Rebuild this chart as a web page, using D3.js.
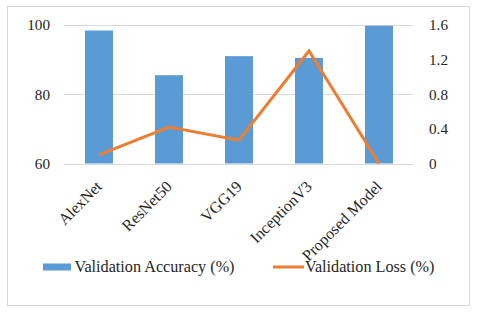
<!DOCTYPE html>
<html>
<head>
<meta charset="utf-8">
<script src="https://cdn.jsdelivr.net/npm/d3@7"></script>
<style>
  body { margin: 0; background: #fff; }
  text { font-family: "Liberation Serif", "Times New Roman", serif; fill: #262626; }
</style>
</head>
<body>
<div id="chart"></div>
<script>
var models = ["AlexNet", "ResNet50", "VGG19", "InceptionV3", "Proposed Model"]
var accuracy = [98.4, 85.5, 91.0, 90.5, 99.8]
var loss = [0.1, 0.42, 0.27, 1.3, 0]
var leftTicks = [60, 80, 100]
var rightTicks = [0, 0.4, 0.8, 1.2, 1.6]

var W = 480, H = 318
var margin = {top: 25, right: 66, bottom: 154.5, left: 64}
var width = W - margin.left - margin.right,
    height = H - margin.top - margin.bottom

var svg = d3.select("#chart").append("svg")
    .attr("width", W)
    .attr("height", H)

// outer chart border
svg.append("rect")
    .attr("x", 7.5).attr("y", 6.5)
    .attr("width", 462).attr("height", 299)
    .attr("fill", "#fff")
    .attr("stroke", "#d9d9d9")

var g = svg.append("g")
    .attr("transform", "translate(" + margin.left + "," + margin.top + ")")

var x = d3.scaleBand().domain(models).range([0, width]).paddingInner(0.6).paddingOuter(0.3)
var yL = d3.scaleLinear().domain([60, 100]).range([height, 0])
var yR = d3.scaleLinear().domain([0, 1.6]).range([height, 0])

// gridlines
g.selectAll(".grid").data(leftTicks).enter().append("line")
    .attr("x1", 0).attr("x2", width)
    .attr("y1", function(d){ return Math.round(yL(d)) + 0.5 })
    .attr("y2", function(d){ return Math.round(yL(d)) + 0.5 })
    .attr("stroke", "#d9d9d9")

// bars
g.selectAll(".bar").data(models).enter().append("rect")
    .attr("x", function(d){ return x(d) })
    .attr("y", function(d, i){ return yL(accuracy[i]) })
    .attr("width", x.bandwidth())
    .attr("height", function(d, i){ return height - yL(accuracy[i]) })
    .attr("fill", "#5b9bd5")

// loss line
var line = d3.line()
    .x(function(d, i){ return x(models[i]) + x.bandwidth() / 2 })
    .y(function(d){ return yR(d) })
g.append("path")
    .datum(loss)
    .attr("d", line)
    .attr("fill", "none")
    .attr("stroke", "#ed7d31")
    .attr("stroke-width", 3)

// left axis
var axL = g.append("g")
    .call(d3.axisLeft(yL).tickValues(leftTicks).tickSize(0).tickPadding(14))
axL.select(".domain").remove()
axL.selectAll("text").style("font-size", "15.2px").style("font-family", "Liberation Serif").attr("fill", "#262626")

// right axis
var axR = g.append("g")
    .attr("transform", "translate(" + width + ",0)")
    .call(d3.axisRight(yR).tickValues(rightTicks).tickSize(0).tickPadding(15)
        .tickFormat(function(d){ return d === 0 ? "0" : d3.format(".1f")(d) }))
axR.select(".domain").remove()
axR.selectAll("text").style("font-size", "15.2px").style("font-family", "Liberation Serif").attr("fill", "#262626")

// category labels
g.selectAll(".xlab").data(models).enter().append("text")
    .attr("transform", function(d){
        return "translate(" + (x(d) + x.bandwidth() / 2 + 4) + "," + (height + 24) + ") rotate(-45)"
    })
    .attr("text-anchor", "end")
    .style("font-size", "16px")
    .text(function(d){ return d })

// legend
var leg = svg.append("g")
leg.append("rect")
    .attr("x", 43).attr("y", 263.5)
    .attr("width", 28).attr("height", 7)
    .attr("fill", "#5b9bd5")
leg.append("text")
    .attr("x", 74.5).attr("y", 271.5)
    .style("font-size", "16.2px")
    .text("Validation Accuracy (%)")
leg.append("line")
    .attr("x1", 273).attr("x2", 304)
    .attr("y1", 267).attr("y2", 267)
    .attr("stroke", "#ed7d31")
    .attr("stroke-width", 3)
leg.append("text")
    .attr("x", 305).attr("y", 271.5)
    .style("font-size", "16.2px")
    .text("Validation Loss (%)")
</script>
</body>
</html>
